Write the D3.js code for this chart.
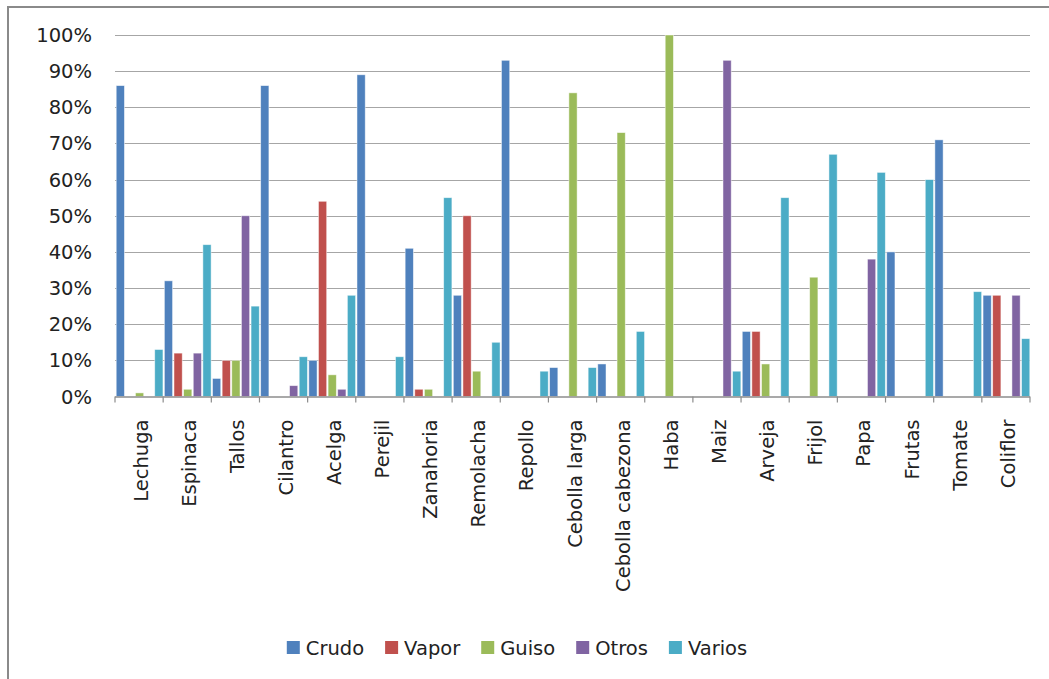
<!DOCTYPE html>
<html>
<head>
<meta charset="utf-8">
<script src="https://cdn.jsdelivr.net/npm/d3@7"></script>
<style>
  body { margin: 0; background: #fff; }
  text { font-family: "DejaVu Sans", sans-serif; fill: #222; }
</style>
</head>
<body>
<div id="chart"></div>
<script>
// categories and series (values in %)
const categories = ["Lechuga", "Espinaca", "Tallos", "Cilantro", "Acelga", "Perejil", "Zanahoria",
  "Remolacha", "Repollo", "Cebolla larga", "Cebolla cabezona", "Haba", "Maiz", "Arveja",
  "Frijol", "Papa", "Frutas", "Tomate", "Coliflor"];
const seriesNames = ["Crudo", "Vapor", "Guiso", "Otros", "Varios"];
const crudo  = [86, 32, 5, 86, 10, 89, 41, 28, 93, 8, 9, 0, 0, 18, 0, 0, 40, 71, 28];
const vapor  = [0, 12, 10, 0, 54, 0, 2, 50, 0, 0, 0, 0, 0, 18, 0, 0, 0, 0, 28];
const guiso  = [1, 2, 10, 0, 6, 0, 2, 7, 0, 84, 73, 100, 0, 9, 33, 0, 0, 0, 0];
const otros  = [0, 12, 50, 3, 2, 0, 0, 0, 0, 0, 0, 0, 93, 0, 0, 38, 0, 0, 28];
const varios = [13, 42, 25, 11, 28, 11, 55, 15, 7, 8, 18, 0, 7, 55, 67, 62, 60, 29, 16];
const yTicks = [0, 10, 20, 30, 40, 50, 60, 70, 80, 90, 100];
const colors = ["#4F81BD", "#C0504D", "#9BBB59", "#8064A2", "#4BACC6"];

const seriesValues = [crudo, vapor, guiso, otros, varios];

const W = 1049, H = 679;
const margin = {top: 35, right: 19, bottom: 282.5, left: 115};
const width = W - margin.left - margin.right;
const height = H - margin.top - margin.bottom;

const svg = d3.select("#chart").append("svg")
    .attr("width", W)
    .attr("height", H);

// chart area border (only top/left visible in the picture)
svg.append("rect")
    .attr("x", 8).attr("y", 7)
    .attr("width", W + 20).attr("height", H + 20)
    .attr("fill", "none")
    .attr("stroke", "#8a8a8a")
    .attr("stroke-width", 2);

const g = svg.append("g")
    .attr("transform", `translate(${margin.left},${margin.top})`);

// scales
const x0 = d3.scaleBand().domain(categories).range([0, width]).padding(0);
const x1 = d3.scaleBand().domain(seriesNames).range([0, x0.bandwidth()]).padding(0);
const y = d3.scaleLinear().domain([0, 100]).range([height, 0]);

// gridlines
g.append("g")
    .selectAll("line")
    .data(yTicks.filter(d => d > 0))
    .enter().append("line")
    .attr("x1", 0).attr("x2", width)
    .attr("y1", d => Math.round(y(d)) + 0.5)
    .attr("y2", d => Math.round(y(d)) + 0.5)
    .attr("stroke", "#a6a6a6")
    .attr("stroke-width", 1.2);

// y labels
g.append("g")
    .selectAll("text")
    .data(yTicks)
    .enter().append("text")
    .attr("x", -23)
    .attr("y", d => y(d))
    .attr("dy", "0.36em")
    .attr("text-anchor", "end")
    .style("font-size", "19.5px")
    .text(d => d + "%");

// bars
const rows = categories.map((c, i) => ({cat: c, vals: seriesNames.map((s, j) => ({s: s, v: seriesValues[j][i], c: colors[j]}))}));

const groups = g.selectAll(".cat")
    .data(rows)
    .enter().append("g")
    .attr("class", "cat")
    .attr("transform", d => `translate(${x0(d.cat)},0)`);

groups.selectAll("rect")
    .data(d => d.vals.filter(e => e.v > 0))
    .enter().append("rect")
    .attr("x", d => x1(d.s) + 1.2)
    .attr("width", x1.bandwidth() - 1.4)
    .attr("y", d => y(d.v))
    .attr("height", d => height - y(d.v))
    .attr("fill", d => d.c)
    .attr("stroke", "#ffffff")
    .attr("stroke-opacity", 0.6)
    .attr("stroke-width", 0.8);

// x axis
const xAxis = g.append("g")
    .attr("transform", `translate(0,${height})`);

xAxis.append("line")
    .attr("x1", 0).attr("x2", width)
    .attr("y1", 0.5).attr("y2", 0.5)
    .attr("stroke", "#8c8c8c")
    .attr("stroke-width", 1.5);

const bounds = categories.map(c => x0(c)).concat([width]);
xAxis.selectAll(".tick")
    .data(bounds)
    .enter().append("line")
    .attr("x1", d => d).attr("x2", d => d)
    .attr("y1", 0).attr("y2", 6)
    .attr("stroke", "#8c8c8c")
    .attr("stroke-width", 1.2);

xAxis.selectAll(".lbl")
    .data(categories)
    .enter().append("text")
    .attr("class", "lbl")
    .attr("transform", d => `translate(${x0(d) + x0.bandwidth() / 2 + 2},23) rotate(-90)`)
    .attr("dy", "0.36em")
    .attr("text-anchor", "end")
    .style("font-size", "19.5px")
    .text(d => d);

// legend
const legend = svg.append("g");
const items = legend.selectAll(".item")
    .data(seriesNames)
    .enter().append("g")
    .attr("class", "item");

items.append("rect")
    .attr("width", 13).attr("height", 13)
    .attr("y", 641)
    .attr("fill", (d, i) => colors[i]);

items.append("text")
    .attr("x", 19)
    .attr("y", 648)
    .attr("dy", "0.36em")
    .style("font-size", "19.5px")
    .text(d => d);

let offset = 0;
const pos = [];
items.each(function () {
    pos.push(offset);
    offset += 19 + d3.select(this).select("text").node().getComputedTextLength() + 21;
});
const total = offset - 21;
const start = 517 - total / 2;
items.attr("transform", (d, i) => `translate(${start + pos[i]},0)`);
</script>
</body>
</html>
